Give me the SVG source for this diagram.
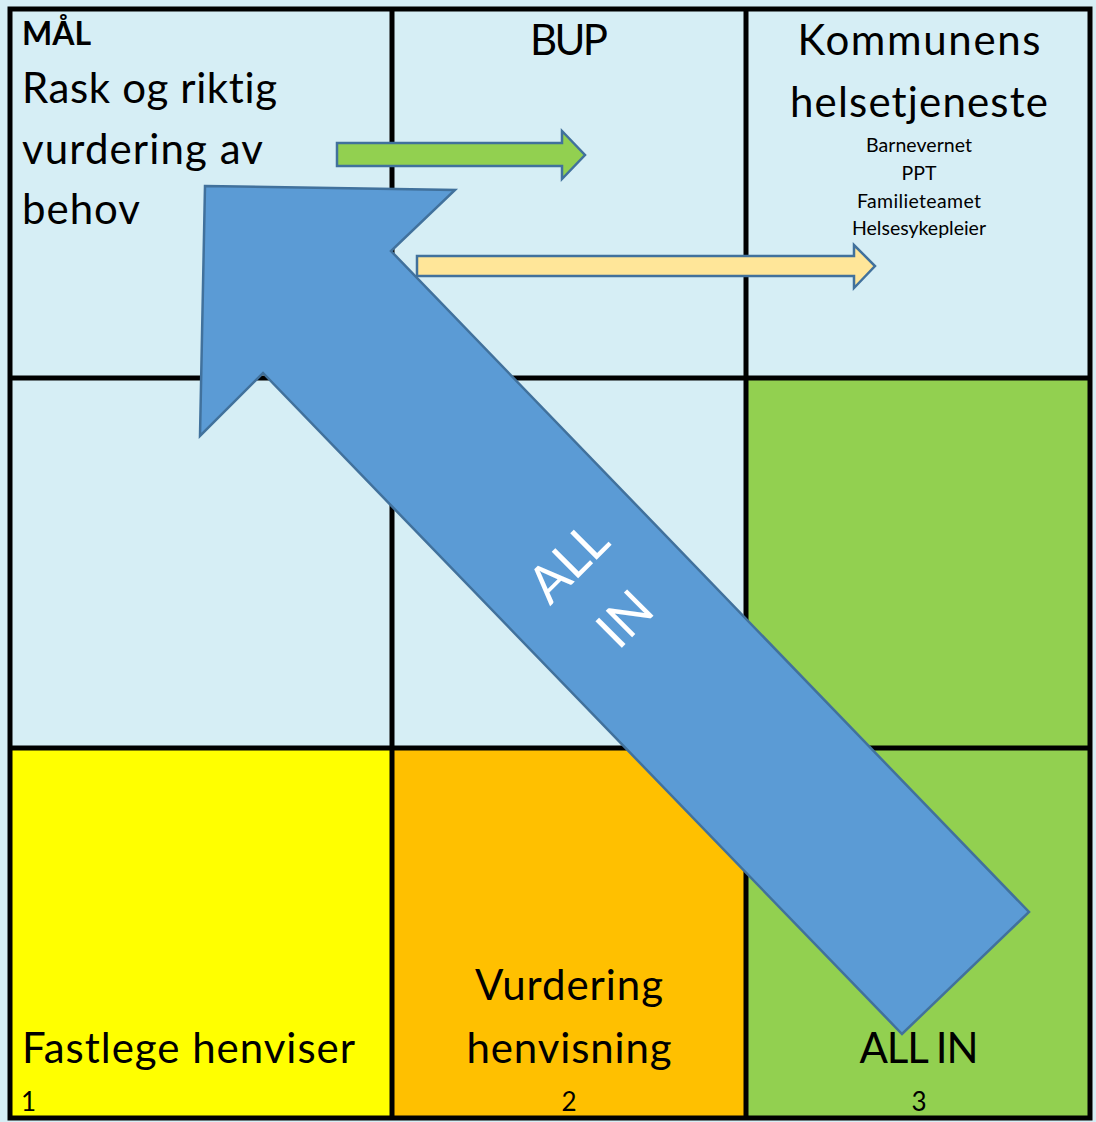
<svg xmlns="http://www.w3.org/2000/svg" width="1096" height="1122" viewBox="0 0 1096 1122">
<style>
.t{font-family:Lato,"Open Sans","DejaVu Sans",sans-serif;fill:#000;font-variant-ligatures:none}
.big{font-size:42px}
.sm{font-size:19.5px}
.num{font-size:26px}
.c{text-anchor:middle}
.grid{stroke:#000;stroke-width:5;fill:none}
.arr{stroke:#41719C;stroke-width:2.5;stroke-linejoin:miter}
</style>
<rect x="0" y="0" width="1096" height="1122" fill="#D6EEF5"/>
<g id="cell-mal">
<rect x="10" y="9" width="382" height="369" fill="#D6EEF5"/>
<text class="t" x="22" y="45" font-size="32" font-weight="bold" textLength="69">MÅL</text>
<text class="t big" x="22" y="103" textLength="255">Rask og riktig</text>
<text class="t big" x="22" y="164" textLength="241">vurdering av</text>
<text class="t big" x="22" y="224" textLength="118">behov</text>
</g>
<g id="cell-bup">
<rect x="392" y="9" width="354" height="369" fill="#D6EEF5"/>
<text class="t big c" x="569" y="55" textLength="78">BUP</text>
</g>
<g id="cell-kommune">
<rect x="746" y="9" width="344" height="369" fill="#D6EEF5"/>
<text class="t big c" x="919" y="55" textLength="243">Kommunens</text>
<text class="t big c" x="919" y="117" textLength="258">helsetjeneste</text>
<text class="t sm c" x="919" y="152" textLength="106">Barnevernet</text>
<text class="t sm c" x="919" y="180">PPT</text>
<text class="t sm c" x="919" y="208" textLength="124">Familieteamet</text>
<text class="t sm c" x="919" y="235" textLength="134">Helsesykepleier</text>
</g>
<g id="cell-m1"><rect x="10" y="378" width="382" height="370" fill="#D6EEF5"/></g>
<g id="cell-m2"><rect x="392" y="378" width="354" height="370" fill="#D6EEF5"/></g>
<g id="cell-m3"><rect x="746" y="378" width="344" height="370" fill="#92D050"/></g>
<g id="cell-fastlege">
<rect x="10" y="748" width="382" height="370" fill="#FFFF00"/>
<text class="t big" x="22" y="1063" textLength="333">Fastlege henviser</text>
<text class="t num" x="21" y="1111">1</text>
</g>
<g id="cell-vurdering">
<rect x="392" y="748" width="354" height="370" fill="#FFC000"/>
<text class="t big c" x="569" y="1000" textLength="188">Vurdering</text>
<text class="t big c" x="569" y="1063" textLength="205">henvisning</text>
<text class="t num c" x="569" y="1111">2</text>
</g>
<g id="cell-allin">
<rect x="746" y="748" width="344" height="370" fill="#92D050"/>
<text class="t big c" x="919" y="1063" textLength="119">ALL IN</text>
<text class="t num c" x="919" y="1111">3</text>
</g>
<g id="grid" class="grid">
<rect x="10" y="9" width="1080" height="1109"/>
<line x1="392" y1="9" x2="392" y2="1118"/>
<line x1="746" y1="9" x2="746" y2="1118"/>
<line x1="10" y1="378" x2="1090" y2="378"/>
<line x1="10" y1="748" x2="1090" y2="748"/>
</g>
<g id="connectors">
<polygon class="arr" fill="#92D050" points="337,143 562,143 562,131 585,155 562,179 562,166 337,166"/>
<polygon class="arr" fill="#FFE699" points="417,256 854,256 854,245 875,266 854,288 854,276 417,276"/>
<polygon class="arr" fill="#5B9BD5" points="205,186 455,190 391,251 1029,912 902,1034 263,373 200,436"/>
<g transform="translate(608,602) rotate(-45)" fill="#fff" font-family="Lato,'Open Sans',sans-serif" font-size="52" text-anchor="middle">
<text x="0" y="-38" textLength="88">ALL</text>
<text x="0" y="42">IN</text>
</g>
</g>
</svg>
